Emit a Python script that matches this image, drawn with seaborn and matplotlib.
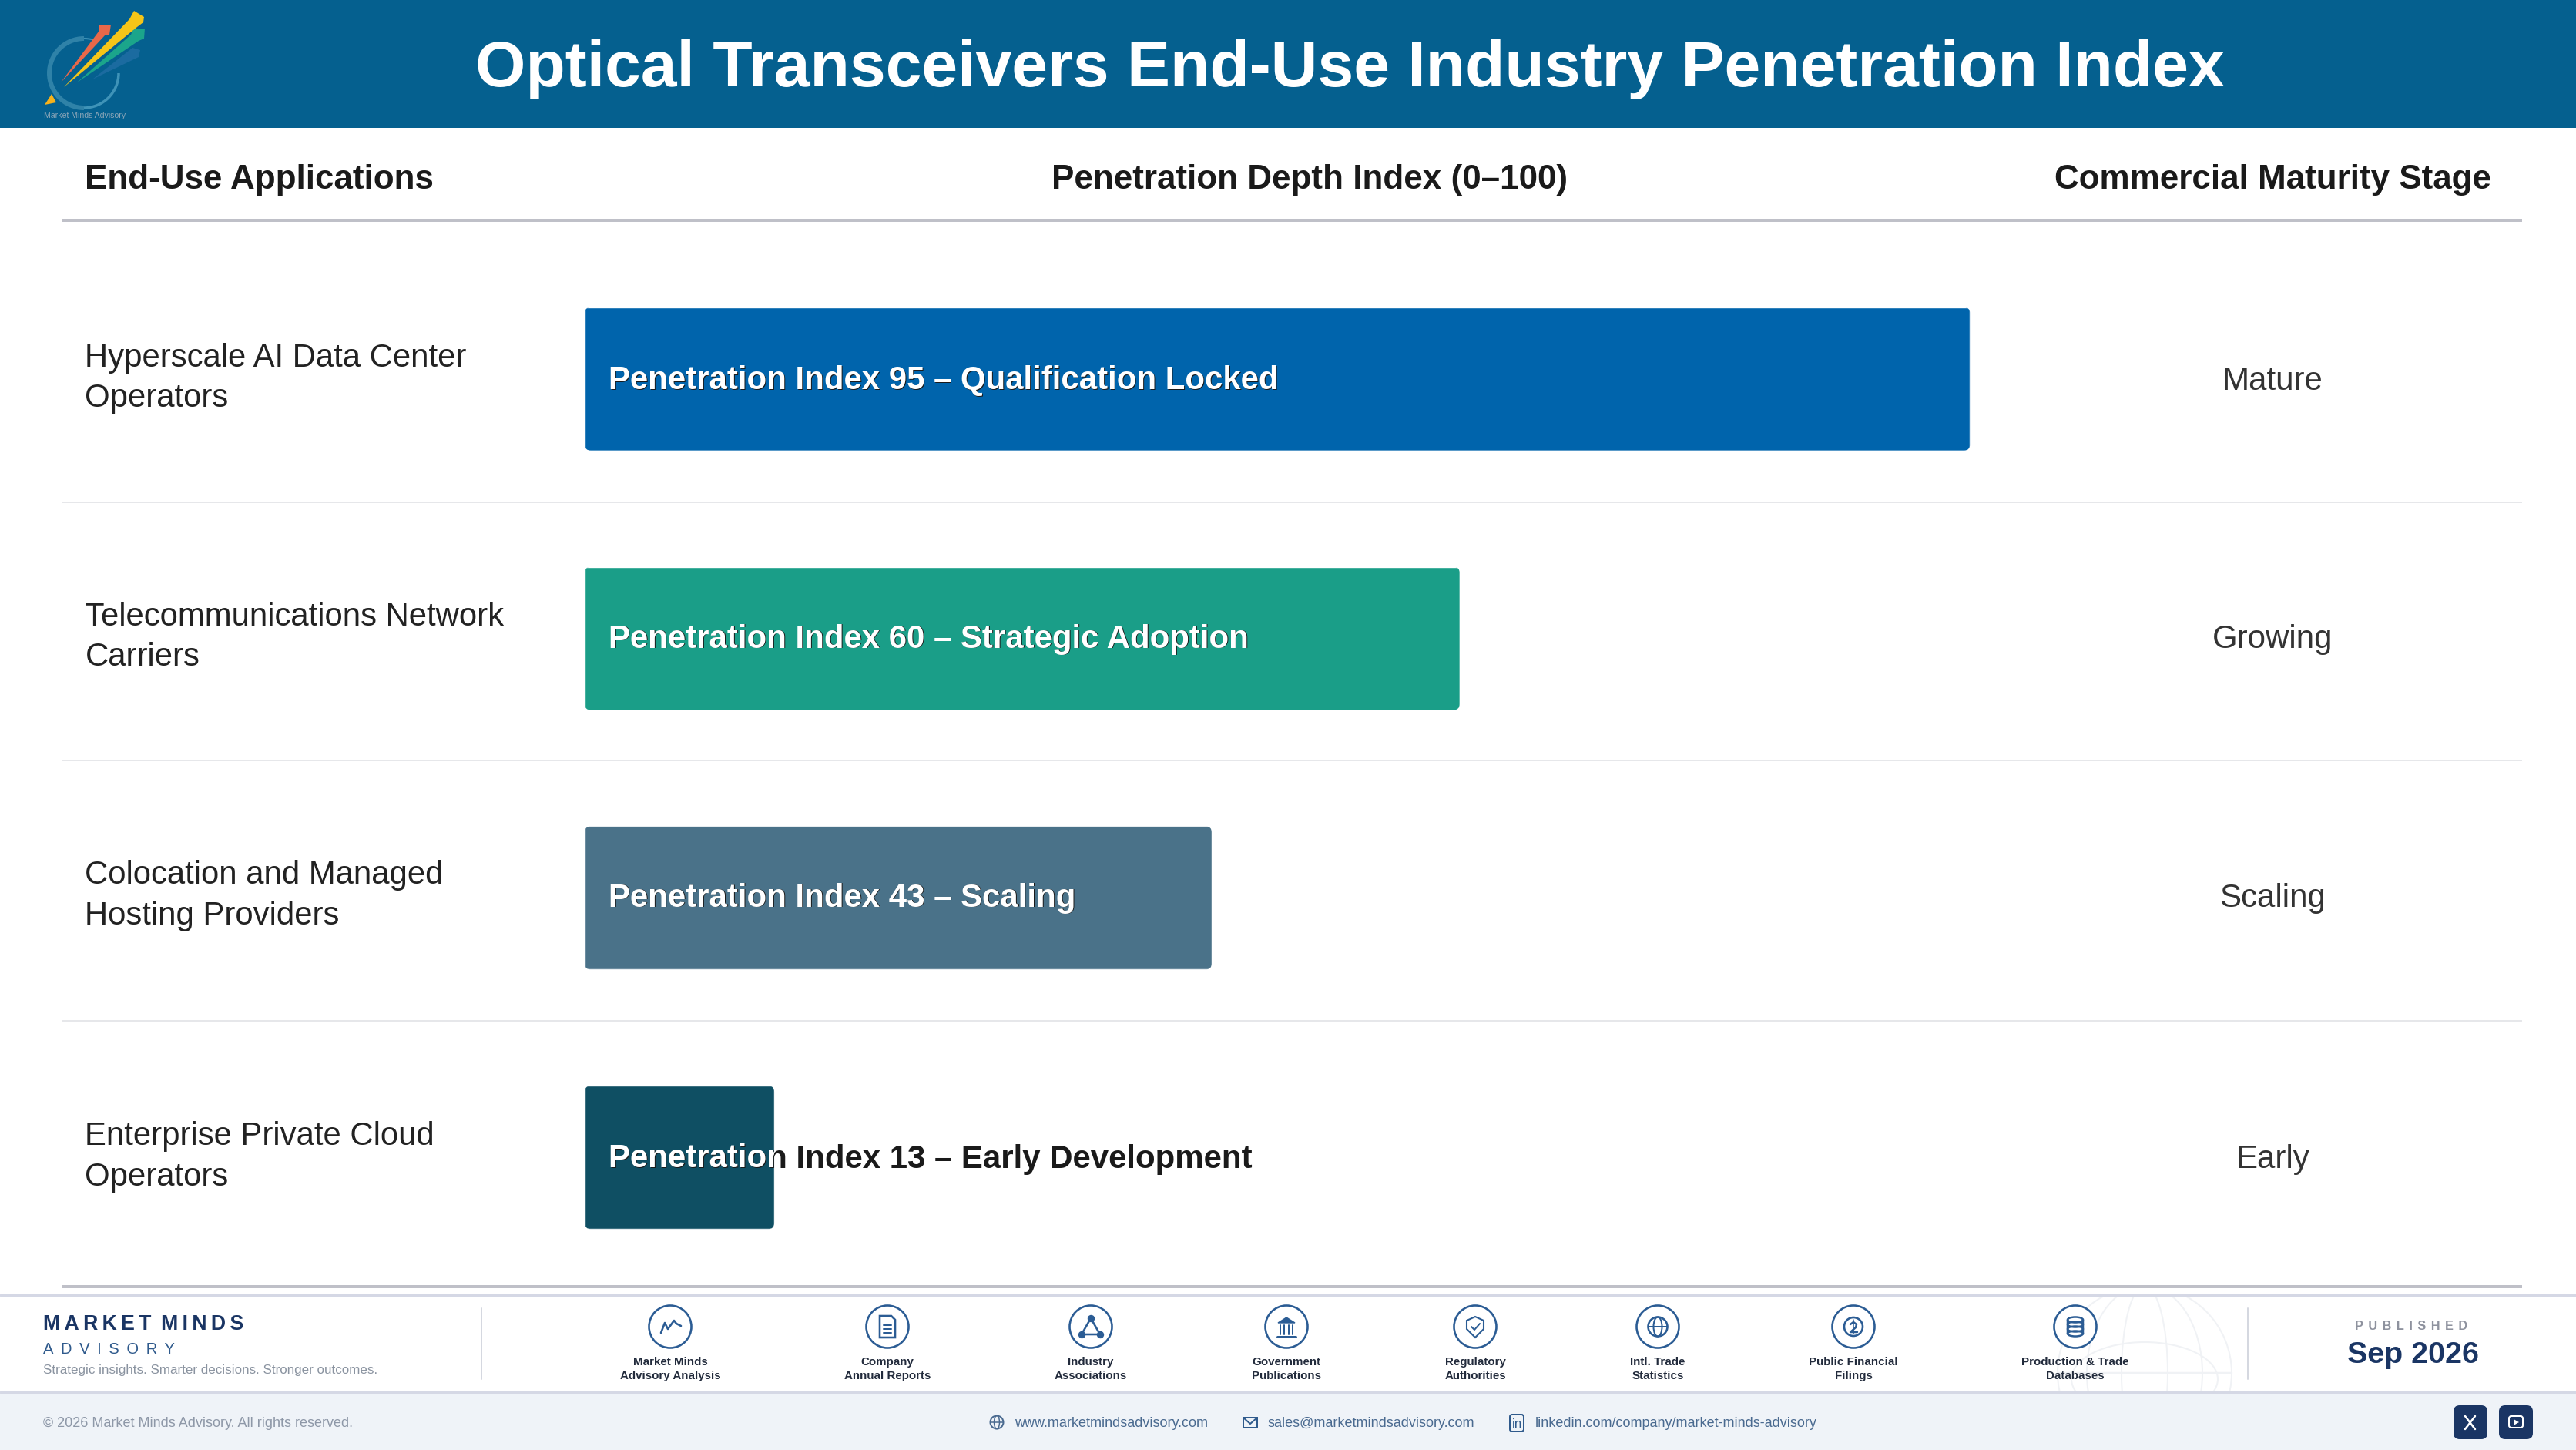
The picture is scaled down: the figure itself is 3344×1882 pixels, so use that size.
import numpy as np
import pandas as pd
import matplotlib
matplotlib.use("Agg")
import matplotlib.pyplot as plt
import seaborn as sns
from matplotlib.patches import Rectangle, FancyBboxPatch, Circle, Ellipse, Polygon, Arc

# ---------- data ----------
title = "Optical Transceivers End-Use Industry Penetration Index"
col_headers = ["End-Use Applications", "Penetration Depth Index (0–100)", "Commercial Maturity Stage"]
applications = ["Hyperscale AI Data Center\nOperators", "Telecommunications Network\nCarriers",
                "Colocation and Managed\nHosting Providers", "Enterprise Private Cloud\nOperators"]
penetration = [95, 60, 43, 13]
descriptors = ["Qualification Locked", "Strategic Adoption", "Scaling", "Early Development"]
stages = ["Mature", "Growing", "Scaling", "Early"]
bar_colors = ["#0064AC", "#1A9E88", "#4A7289", "#0F4F63"]
source_labels = ["Market Minds\nAdvisory Analysis", "Company\nAnnual Reports", "Industry\nAssociations",
                 "Government\nPublications", "Regulatory\nAuthorities", "Intl. Trade\nStatistics",
                 "Public Financial\nFilings", "Production & Trade\nDatabases"]
contacts = ["www.marketmindsadvisory.com", "sales@marketmindsadvisory.com", "linkedin.com/company/market-minds-advisory"]

# ---------- theme ----------
sns.set_theme(style="white")
plt.rcParams["font.family"] = ["Liberation Sans", "DejaVu Sans"]
W, H = 3344, 1882
DPI = 100
fig = plt.figure(figsize=(W / DPI, H / DPI), dpi=DPI, facecolor="white")

def make_px_axes(z):
    a = fig.add_axes([0, 0, 1, 1], zorder=z)
    a.set_xlim(0, W); a.set_ylim(H, 0); a.axis("off"); a.patch.set_alpha(0)
    return a

bg = make_px_axes(0)
top = make_px_axes(5)
renderer = fig.canvas.get_renderer()
PT = 72 / DPI

def fit_px(s, width, weight="normal"):
    t = fig.text(0, 0, s, fontsize=20, fontweight=weight)
    w = t.get_window_extent(renderer).width
    t.remove()
    return 20 * width / w / PT

def T(x, y, s, px, color="#1a1a1a", weight="normal", ha="left", ax=top, **kw):
    return ax.text(x, y, s, fontsize=px * PT, color=color, fontweight=weight, ha=ha, va="baseline", **kw)

# ---------- header ----------
bg.add_patch(Rectangle((0, 0), W, 166, fc="#05608F", ec="none"))
T(1752, 112, title, fit_px(title, 2266, "bold"), color="white", weight="bold", ha="center")
hpx = fit_px(col_headers[0], 452, "bold")
T(110.5, 245, col_headers[0], hpx, weight="bold")
T(1700, 245, col_headers[1], hpx, weight="bold", ha="center")
T(2950, 245, col_headers[2], hpx, weight="bold", ha="center")
bg.plot([80, 3274], [286, 286], color="#BFC0C8", lw=4 * PT, solid_capstyle="butt")
bg.plot([80, 3274], [1670, 1670], color="#BFC0C8", lw=4 * PT, solid_capstyle="butt")
for y in [652, 987, 1325]:
    bg.plot([80, 3274], [y, y], color="#E6E7EA", lw=2 * PT, solid_capstyle="butt")

# ---------- logo ----------
bg.add_patch(Arc((109, 95), 90, 90, theta1=90, theta2=270, ec="#2F82A8", lw=6 * PT))
bg.add_patch(Arc((109, 95), 90, 90, theta1=0, theta2=90, ec="#3F93B8", lw=3.5 * PT))
bg.add_patch(Arc((109, 95), 90, 90, theta1=270, theta2=285, ec="#3F93B8", lw=2 * PT))
bg.add_patch(Polygon([[120, 103], [172, 62], [182, 65], [180, 74]], fc="#1B6BA0", ec="none"))
bg.add_patch(Polygon([[79, 107], [128, 41], [128, 33], [144, 32], [142, 45], [137, 45]], fc="#E8684A", ec="none"))
bg.add_patch(Polygon([[100, 107], [170, 45], [173, 38], [188, 37], [187, 50], [180, 53]], fc="#1BA58B", ec="none"))
bg.add_patch(Polygon([[83, 113], [168, 25], [174, 14], [187, 22], [186, 29], [178, 35]], fc="#F5C518", ec="none"))
bg.add_patch(Polygon([[58, 136], [67, 122], [73, 133]], fc="#F7B21B", ec="none"))
lg = "Market Minds Advisory"
T(57, 153, lg, fit_px(lg, 106), color="#8CA6B8")

# ---------- bars (seaborn) ----------
row_centers = [492.5, 828.5, 1164.5, 1503]
spacing = (row_centers[-1] - row_centers[0]) / 3
x0, x100 = 759, 2652
ytop = row_centers[0] - spacing / 2 - 0.75
ybot = row_centers[-1] + spacing / 2 - 0.75
ax = fig.add_axes([x0 / W, 1 - ybot / H, (x100 - x0) / W, (ybot - ytop) / H], zorder=2)
df = pd.DataFrame({"application": applications, "penetration": penetration, "stage": stages})
sns.barplot(data=df, y="application", x="penetration", hue="application", palette=bar_colors,
            dodge=False, legend=False, width=186 / spacing, saturation=1, ax=ax)
ax.set_xlim(0, 100); ax.set_ylim(3.5, -0.5)
ax.axis("off"); ax.patch.set_alpha(0)

lpx = fit_px("Penetration Index 95 – Qualification Locked", 871, "bold")
rpx = fit_px("Hyperscale AI Data Center", 495)
spx = fit_px("Growing", 156)
radius = 8
for i, bar in enumerate(ax.patches[:4]):
    e = bar.get_window_extent(renderer)
    bx, bw = e.x0, e.width
    by, bh = H - e.y1, e.height
    clip = FancyBboxPatch((bx + radius, by + radius), bw - 2 * radius, bh - 2 * radius,
                          boxstyle=f"round,pad={radius},rounding_size={radius}", transform=top.transData)
    bar.set_clip_path(clip)
    rc = row_centers[i]
    s = f"Penetration Index {penetration[i]} – {descriptors[i]}"
    T(791, rc + 13, s, lpx, color="#1a1a1a", weight="bold")
    t = T(790, rc + 12, s, lpx, color="white", weight="bold")
    t.set_clip_on(True)
    t.set_clip_box(e)  # white part of the label stays inside the bar
    l1, l2 = applications[i].split("\n")
    T(110.5, rc - 17, l1, rpx, color="#222222")
    T(110.5, rc + 35.5, l2, rpx, color="#222222")
    T(2950, rc + 13, stages[i], spx, color="#333333", ha="center")

# ---------- footer ----------
bg.add_patch(Rectangle((0, 1807), W, H - 1807, fc="#EFF3F8", ec="none"))
bg.plot([0, W], [1681, 1681], color="#D5D8E5", lw=3 * PT)
bg.plot([0, W], [1807, 1807], color="#D5D8E5", lw=3 * PT)
for x in [625, 2918]:
    bg.plot([x, x], [1698, 1790], color="#D5D8E0", lw=2 * PT)

# watermark globe
clip_rect = Rectangle((2600, 1682), 400, 125, transform=bg.transData)
wm = "#F0F2F5"
for a in [Circle((2784, 1782), 113, fc="none", ec=wm, lw=2 * PT),
          Ellipse((2784, 1782), 150, 226, fc="none", ec=wm, lw=2 * PT),
          Ellipse((2784, 1782), 60, 226, fc="none", ec=wm, lw=2 * PT),
          Ellipse((2784, 1790), 190, 96, fc="none", ec=wm, lw=2 * PT)]:
    bg.add_patch(a); a.set_clip_path(clip_rect)
ln, = bg.plot([2671, 2897], [1782, 1782], color=wm, lw=2.5 * PT); ln.set_clip_path(clip_rect)

nb = "#1A3564"
mm = "M\u2009A\u2009R\u2009K\u2009E\u2009T\u2009 M\u2009I\u2009N\u2009D\u2009S"
T(56, 1726, mm, fit_px(mm, 259, "bold"), color=nb, weight="bold")
adv = "A\u2009 D\u2009 V\u2009 I\u2009 S\u2009 O\u2009 R\u2009 Y"
T(56, 1757, adv, fit_px(adv, 171), color="#2F5A8C")
tag = "Strategic insights. Smarter decisions. Stronger outcomes."
T(56, 1783, tag, fit_px(tag, 432), color="#8A93A0")
cp = "© 2026 Market Minds Advisory. All rights reserved."
T(56, 1852, cp, fit_px(cp, 400), color="#8E98A8")

pb = "P\u2009\u2009U\u2009\u2009B\u2009\u2009L\u2009\u2009I\u2009\u2009S\u2009\u2009H\u2009\u2009E\u2009\u2009D"
T(3130, 1726, pb, fit_px(pb, 146, "bold"), color="#8E929E", ha="center", weight="bold")
T(3132, 1769, "Sep 2026", fit_px("Sep 2026", 171, "bold"), color=nb, weight="bold", ha="center")

# source icons
ic = "#2B5C94"
icon_x = [870, 1152, 1416, 1670, 1915, 2152, 2406, 2694]
icy = 1722
ilw = 2.6 * PT
spxs = fit_px("Advisory Analysis", 130, "bold")
def L(xs, ys, lw=ilw, **k):
    top.plot(xs, ys, color=ic, lw=lw, solid_capstyle="round", solid_joinstyle="round", **k)
for cx, lab in zip(icon_x, source_labels):
    top.add_patch(Circle((cx, icy), 27.5, fc="white", ec=ic, lw=ilw))
    a, b = lab.split("\n")
    T(cx, 1772, a, spxs, color="#222B3C", weight="bold", ha="center")
    T(cx, 1790, b, spxs, color="#222B3C", weight="bold", ha="center")
cx = icon_x[0]
L(np.array([-12, -7, -3, 5, 8, 14]) + cx, np.array([8, -5, 3, -8, -4, -1]) + icy)
cx = icon_x[1]
top.add_patch(Polygon([[cx - 10, icy - 14], [cx + 5, icy - 14], [cx + 10, icy - 9], [cx + 10, icy + 14], [cx - 10, icy + 14]],
                      fc="none", ec=ic, lw=ilw))
for dy in [-2, 3, 8]:
    L([cx - 5, cx + 5], [icy + dy, icy + dy], lw=2 * PT)
cx = icon_x[2]
L([cx, cx - 12, cx + 12, cx], [icy - 11, icy + 10, icy + 10, icy - 11])
top.scatter([cx, cx - 12, cx + 12], [icy - 11, icy + 10, icy + 10], s=(8 * PT) ** 2, color=ic, zorder=6)
cx = icon_x[3]
top.add_patch(Polygon([[cx - 11, icy - 5], [cx, icy - 12], [cx + 11, icy - 5]], fc=ic, ec=ic, lw=1))
for dx in [-8, -3, 3, 8]:
    L([cx + dx, cx + dx], [icy - 2, icy + 10], lw=2 * PT)
L([cx - 12, cx + 12], [icy + 13, icy + 13], lw=3 * PT)
cx = icon_x[4]
top.add_patch(Polygon([[cx, icy - 13], [cx + 11, icy - 8], [cx + 11, icy + 3], [cx, icy + 14], [cx - 11, icy + 3], [cx - 11, icy - 8]],
                      fc="none", ec=ic, lw=ilw * 0.8))
L([cx - 5, cx - 1, cx + 6], [icy, icy + 4, icy - 4], lw=2 * PT)
cx = icon_x[5]
top.add_patch(Circle((cx, icy), 12.5, fc="none", ec=ic, lw=ilw))
top.add_patch(Ellipse((cx, icy), 11, 25, fc="none", ec=ic, lw=2 * PT))
L([cx - 12, cx + 12], [icy, icy], lw=2 * PT)
cx = icon_x[6]
top.add_patch(Circle((cx, icy), 12, fc="none", ec=ic, lw=ilw))
L(np.array([-4, 0, 4, 3, -4, 5]) + cx, np.array([-3, -6, -3, 1, 7, 7]) + icy, lw=2.5 * PT)
L([cx, cx], [icy - 9, icy + 9], lw=1.5 * PT)
cx = icon_x[7]
for dy in [-9, -3, 3, 9]:
    top.add_patch(Ellipse((cx, icy + dy), 20, 7, fc="none", ec=ic, lw=2.5 * PT))
L([cx - 10, cx - 10], [icy - 9, icy + 9], lw=2.5 * PT)
L([cx + 10, cx + 10], [icy - 9, icy + 9], lw=2.5 * PT)

# contact row
cc = "#4A6A90"
cpx = fit_px(contacts[0], 251)
T(1317, 1852, contacts[0], cpx, color=cc)
T(1646, 1852, contacts[1], cpx, color=cc)
T(1993, 1852, contacts[2], cpx, color=cc)
top.add_patch(Circle((1294, 1846), 8.5, fc="none", ec=cc, lw=2 * PT))
top.add_patch(Ellipse((1294, 1846), 7, 17, fc="none", ec=cc, lw=1.5 * PT))
top.plot([1286, 1302], [1846, 1846], color=cc, lw=1.5 * PT)
top.add_patch(Rectangle((1614, 1840), 18, 13, fc="none", ec="#2F5A8C", lw=2 * PT))
top.plot([1614, 1623, 1632], [1840, 1848, 1840], color="#2F5A8C", lw=2 * PT)
top.add_patch(FancyBboxPatch((1962, 1838), 14, 18, boxstyle="round,pad=2,rounding_size=3", fc="none", ec="#2F5A8C", lw=2 * PT))
T(1969, 1853, "in", 17, color="#2F5A8C", ha="center")

# social buttons
for x in [3185, 3244]:
    top.add_patch(FancyBboxPatch((x + 8, 1832), 28, 28,
                                 boxstyle="round,pad=8,rounding_size=8", fc=nb, ec="none"))
top.plot([3200, 3213], [1838, 1855], color="white", lw=2.5 * PT)
top.plot([3213, 3200], [1838, 1855], color="white", lw=2.5 * PT)
top.add_patch(FancyBboxPatch((3259, 1840), 14, 11, boxstyle="round,pad=2,rounding_size=3", fc="none", ec="white", lw=2 * PT))
top.add_patch(Polygon([[3263, 1842], [3263, 1850], [3270, 1846]], fc="white", ec="none"))

fig.savefig("out.png", dpi=DPI, facecolor="white")
